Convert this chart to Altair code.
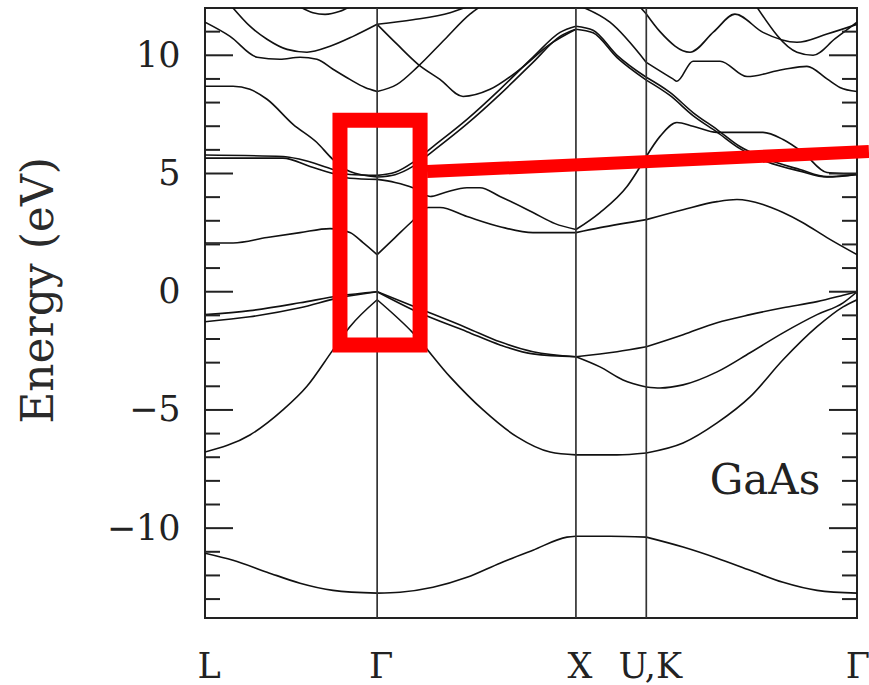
import altair as alt
import pandas as pd

# ---------------- high-symmetry path (k in units of 2*pi/a) ----------------
SYM_K = [0.0, 0.866, 1.866, 2.220, 3.280]
SYM_LABELS = ["L", "Γ", "X", "U,K", "Γ"]
INNER_K = [0.866, 1.866, 2.220]
E_DOMAIN = [-13.8, 12.0]
LABEL_E = [-10, -5, 0, 5, 10]
MAJOR_E = [-10, -5, 0, 5, 10]
MINOR_E = [-13, -12, -11, -9, -8, -7, -6, -4, -3, -2, -1, 1, 2, 3, 4, 6, 7, 8, 9, 11]

# ---------------- bands (k, E in eV) ----------------
VB1_K = [0.0, 0.141, 0.312, 0.478, 0.644, 0.866, 0.981, 1.147, 1.318, 1.484, 1.650, 1.821, 1.866,
         2.037, 2.220, 2.405, 2.576, 2.742, 2.908, 3.079, 3.280]
VB1_E = [-11.06, -11.36, -11.86, -12.33, -12.63, -12.75, -12.71, -12.5, -12.08, -11.48, -10.93, -10.38, -10.34,
         -10.34, -10.38, -10.8, -11.27, -11.78, -12.29, -12.63, -12.75]

VB2_K = [0.0, 0.226, 0.392, 0.513, 0.644, 0.729, 0.866, 1.046, 1.233, 1.399, 1.570, 1.736, 1.866,
         2.073, 2.220, 2.405, 2.576, 2.742, 2.908, 3.079, 3.210, 3.280]
VB2_E = [-6.78, -6.06, -5.0, -4.0, -2.46, -1.48, -0.34, -1.74, -3.6, -5.0, -6.14, -6.78, -6.9,
         -6.9, -6.82, -6.4, -5.55, -4.45, -2.88, -1.48, -0.64, -0.34]

VB3_K = [0.0, 0.226, 0.478, 0.679, 0.866, 1.067, 1.318, 1.484, 1.650, 1.866,
         2.073, 2.220, 2.405, 2.576, 2.742, 2.908, 3.079, 3.210, 3.280]
VB3_E = [-0.97, -0.8, -0.47, -0.17, 0.0, -0.68, -1.53, -2.12, -2.54, -2.75,
         -2.54, -2.33, -1.82, -1.31, -0.97, -0.68, -0.42, -0.15, 0.0]

VB4_K = [0.0, 0.226, 0.478, 0.679, 0.866, 1.067, 1.318, 1.484, 1.650, 1.866,
         1.987, 2.103, 2.220, 2.289, 2.405, 2.576, 2.742, 2.908, 3.079, 3.210, 3.280]
VB4_E = [-1.27, -1.06, -0.68, -0.25, 0.0, -0.85, -1.69, -2.25, -2.63, -2.75,
         -3.18, -3.73, -4.03, -4.07, -3.94, -3.39, -2.58, -1.74, -0.97, -0.47, 0.0]

CB1_K = [0.0, 0.141, 0.312, 0.478, 0.629, 0.729, 0.795, 0.866, 0.956, 1.041, 1.122, 1.182, 1.318, 1.484,
         1.650, 1.866, 1.987, 2.220, 2.405, 2.576, 2.676, 2.807, 2.908, 3.008, 3.129, 3.280]
CB1_E = [2.06, 2.06, 2.29, 2.5, 2.67, 2.5, 2.08, 1.57, 2.29, 2.97, 3.56, 3.56, 3.18, 2.75,
         2.5, 2.5, 2.71, 3.05, 3.47, 3.81, 3.9, 3.69, 3.35, 2.92, 2.29, 1.57]

CB2_K = [0.0, 0.392, 0.528, 0.644, 0.729, 0.866, 0.956, 1.046, 1.132, 1.207, 1.318, 1.383, 1.484, 1.650,
         1.761, 1.866, 1.987, 2.123, 2.220, 2.289, 2.374, 2.455, 2.576, 2.807, 2.908, 3.008, 3.129, 3.280]
CB2_E = [5.65, 5.65, 5.3, 5.0, 4.8, 4.75, 4.62, 4.4, 4.03, 4.2, 4.4, 4.4, 4.03, 3.35,
         2.88, 2.63, 3.35, 4.45, 5.72, 6.57, 7.16, 7.0, 6.74, 6.74, 6.44, 5.89, 5.04, 4.96]

CB3_K = [0.0, 0.392, 0.478, 0.644, 0.729, 0.866, 0.956, 1.046, 1.147, 1.318, 1.484, 1.650, 1.786, 1.866,
         1.952, 2.073, 2.220, 2.339, 2.455, 2.576, 2.691, 2.827, 2.993, 3.129, 3.280]
CB3_E = [5.78, 5.72, 5.6, 5.17, 4.96, 4.92, 5.05, 5.47, 6.14, 7.29, 8.56, 9.92, 10.97, 11.23,
         11.06, 10.0, 9.07, 8.43, 7.58, 6.86, 6.14, 5.6, 5.17, 4.87, 4.96]

CB4_K = [0.0, 0.141, 0.226, 0.312, 0.443, 0.563, 0.644, 0.729, 0.866, 0.956, 1.046, 1.147, 1.318, 1.484,
         1.650, 1.786, 1.866, 1.952, 2.073, 2.220, 2.339, 2.455, 2.576, 2.691, 2.827, 2.993, 3.129, 3.280]
CB4_E = [8.69, 8.69, 8.56, 8.14, 7.08, 6.31, 5.59, 5.08, 4.85, 4.95, 5.3, 5.95, 7.1, 8.35,
         9.7, 10.8, 11.1, 10.95, 9.9, 8.95, 8.3, 7.45, 6.75, 6.05, 5.5, 5.1, 4.85, 4.96]

UB1_K = [0.0, 0.126, 0.262, 0.377, 0.478, 0.563, 0.644, 0.729, 0.805, 0.866, 0.966, 1.072, 1.207, 1.333, 1.383]
UB1_E = [11.4, 10.8, 9.92, 9.83, 9.92, 9.83, 9.41, 8.98, 8.64, 8.47, 8.77, 9.53, 10.68, 11.74, 12.05]

UB2_K = [0.136, 0.226, 0.312, 0.413, 0.513, 0.629, 0.745, 0.866, 0.966, 1.072, 1.182, 1.298, 1.434, 1.585,
         1.736, 1.866]
UB2_E = [12.05, 11.23, 10.68, 10.25, 10.13, 10.38, 10.8, 11.31, 10.47, 9.62, 8.98, 8.26, 8.56, 9.41,
         10.47, 11.1]

UB3_K = [0.866, 1.046, 1.233, 1.318]
UB3_E = [11.31, 11.5, 11.8, 12.05]

UB4_K = [0.478, 0.543, 0.604, 0.679, 0.729]
UB4_E = [12.05, 11.8, 11.73, 11.86, 12.05]

UB5_K = [1.902, 2.037, 2.220, 2.354, 2.374, 2.455, 2.591, 2.727, 2.908, 3.028, 3.129, 3.194, 3.280]
UB5_E = [12.03, 11.4, 9.7, 9.0, 8.9, 9.75, 9.75, 9.1, 9.4, 9.53, 9.0, 8.64, 8.47]

UB6_K = [2.188, 2.220, 2.289, 2.440, 2.560, 2.666, 2.807, 2.978, 3.129, 3.280]
UB6_E = [12.05, 11.75, 11.0, 10.13, 11.0, 11.74, 10.97, 10.55, 10.9, 11.31]

UB7_K = [2.777, 2.978, 3.059, 3.170, 3.280]
UB7_E = [12.03, 10.13, 10.0, 10.7, 11.4]

BANDS = [("VB1", VB1_K, VB1_E), ("VB2", VB2_K, VB2_E), ("VB3", VB3_K, VB3_E), ("VB4", VB4_K, VB4_E),
         ("CB1", CB1_K, CB1_E), ("CB2", CB2_K, CB2_E), ("CB3", CB3_K, CB3_E), ("CB4", CB4_K, CB4_E),
         ("UB1", UB1_K, UB1_E), ("UB2", UB2_K, UB2_E), ("UB3", UB3_K, UB3_E), ("UB4", UB4_K, UB4_E),
         ("UB5", UB5_K, UB5_E), ("UB6", UB6_K, UB6_E), ("UB7", UB7_K, UB7_E)]

# red annotation (data coordinates)
BOX_K = [0.679, 1.082]
BOX_E = [-2.25, 7.25]
POINTER_K = [1.117, 3.340]
POINTER_E = [5.08, 5.93]

MATERIAL = "GaAs"
MATERIAL_K = 2.817
MATERIAL_E = -8.56

# ---------------- build tables ----------------
rows = []
for name, ks, es in BANDS:
    for s in range(4):
        lo, hi = SYM_K[s] - 1e-9, SYM_K[s + 1] + 1e-9
        pts = [(k, e) for k, e in zip(ks, es) if lo <= k <= hi]
        if len(pts) >= 2:
            for i, (k, e) in enumerate(pts):
                rows.append({"k": k, "E": e, "g": f"{name}-{s}", "i": i})
bands_df = pd.DataFrame(rows)

W, H = 652, 610
FONT = "DejaVu Serif"

xscale = alt.Scale(domain=[SYM_K[0], SYM_K[-1]], nice=False, zero=False)
yscale = alt.Scale(domain=E_DOMAIN, nice=False, zero=False)
YAXIS = alt.Axis(
    values=LABEL_E, tickSize=0, domain=False, grid=False,
    labelFont=FONT, labelFontSize=35, labelColor="#222", labelPadding=25,
    title="Energy (eV)", titleFont=FONT, titleFontSize=44, titleFontWeight="normal",
    titleColor="#2a2a2a", titleX=-166, titleY=282, titleAngle=-90,
    titleAlign="center", titleBaseline="middle")


def Y(field):
    return alt.Y(field, type="quantitative", scale=yscale, axis=YAXIS, title="Energy (eV)")


def X(field):
    return alt.X(field, type="quantitative", scale=xscale, axis=None)


bands = alt.Chart(bands_df).mark_line(
    color="#111", strokeWidth=1.6, interpolate="monotone", clip=True
).encode(x=X("k"), y=Y("E"), detail="g:N", order="i:Q")

vlines = alt.Chart(pd.DataFrame({"k": INNER_K})).mark_rule(
    color="#333", strokeWidth=1.7
).encode(x=X("k"))

major_df = pd.DataFrame({"E": MAJOR_E})
minor_df = pd.DataFrame({"E": MINOR_E})
tick_layers = []
for df, ln in ((major_df, 28), (minor_df, 15)):
    tick_layers.append(alt.Chart(df).mark_rule(color="#222", strokeWidth=2).encode(
        y=Y("E"), x=alt.value(0), x2=alt.value(ln)))
    tick_layers.append(alt.Chart(df).mark_rule(color="#222", strokeWidth=2).encode(
        y=Y("E"), x=alt.value(W), x2=alt.value(W - ln)))

lab_df = pd.DataFrame({"k": SYM_K[:-1], "lab": SYM_LABELS[:-1]})
xlabels = alt.Chart(lab_df).mark_text(
    font=FONT, fontSize=35, color="#222", baseline="alphabetic", align="center", dx=4
).encode(x=X("k"), y=alt.value(H + 60), text="lab:N")
xlabel_end = alt.Chart(pd.DataFrame({"k": SYM_K[-1:], "lab": SYM_LABELS[-1:]})).mark_text(
    font=FONT, fontSize=35, color="#222", baseline="alphabetic", align="center", dx=1
).encode(x=X("k"), y=alt.value(H + 60), text="lab:N")

box = alt.Chart(pd.DataFrame({"k1": [BOX_K[0]], "k2": [BOX_K[1]], "e1": [BOX_E[0]], "e2": [BOX_E[1]]})).mark_rect(
    fillOpacity=0, stroke="#ff0000", strokeWidth=15
).encode(x=X("k1"), x2="k2:Q", y=Y("e1"), y2="e2:Q")

pointer = alt.Chart(pd.DataFrame({"k": POINTER_K, "E": POINTER_E})).mark_line(
    color="#ff0000", strokeWidth=13, clip=False, strokeCap="butt"
).encode(x=X("k"), y=Y("E"))

material = alt.Chart(pd.DataFrame({"k": [MATERIAL_K], "E": [MATERIAL_E], "t": [MATERIAL]})).mark_text(
    font=FONT, fontSize=42, color="#222", baseline="alphabetic", align="center"
).encode(x=X("k"), y=Y("E"), text="t:N")

chart = alt.layer(bands, vlines, *tick_layers, box, pointer, xlabels, xlabel_end, material).properties(
    width=W, height=H,
    autosize=alt.AutoSizeParams(type="none"),
    padding={"left": 205, "top": 8, "right": 12, "bottom": 67},
    background="white",
).configure_view(stroke="#222", strokeWidth=2)

chart.save("out.html", embed_options={"renderer": "svg", "actions": False})
